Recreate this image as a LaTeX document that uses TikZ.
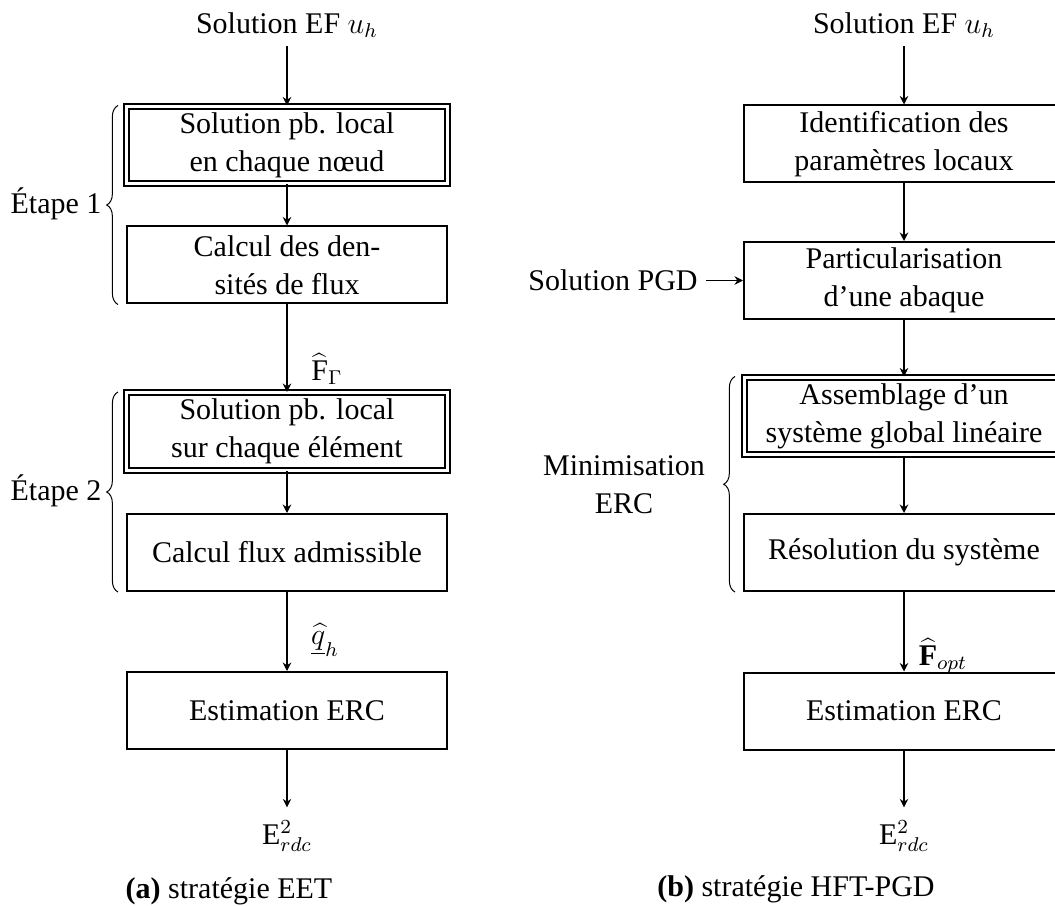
\documentclass[tikz,border=0pt]{standalone}
\usepackage{fontspec}
\setmainfont{Liberation Serif}
\usetikzlibrary{decorations.pathreplacing,arrows.meta}
\begin{document}
\begin{tikzpicture}[x=0.4pt,y=-0.4pt,
  font=\fontsize{12}{15.2}\selectfont,
  boxs/.style={draw, line width=0.8pt, minimum width=128pt, minimum height=30.8pt, inner sep=0pt, align=center},
  boxd/.style={boxs, double, double distance=1.2pt},
  arr/.style={-{Stealth[length=3.4pt,width=3.4pt,inset=1.1pt]}, line width=0.45pt},
  lbl/.style={inner sep=0pt},
  brc/.style={decorate, decoration={brace, amplitude=4.5pt}, line width=0.4pt}]
\clip (0,0) rectangle (1055,906);
% ---- left column
\node (lin) at (287,25) {Solution EF $u_h$};
\node[boxd] (L1) at (287,145) {Solution pb. local\\en chaque nœud};
\node[boxs] (L2) at (287,265) {Calcul des den-\\sités de flux};
\node[boxd] (L3) at (287,431.5) {Solution pb. local\\sur chaque élément};
\node[boxs] (L4) at (287,552.5) {Calcul flux admissible};
\node[boxs] (L5) at (287,710.5) {Estimation ERC};
\node[inner sep=5pt] (lout) at (287,836) {$\mathrm{E}^2_{rdc}$};
\draw[arr] (lin) -- (L1);
\draw[arr] (L1) -- (L2);
\draw[arr] (L2) -- (L3);
\draw[arr] (L3) -- (L4);
\draw[arr] (L4) -- (L5);
\draw[arr] (L5) -- (lout);
\node[lbl] (lF) at (327,369) {$\widehat{\mathrm{F}}_\Gamma$};
\node[lbl] (lq) at (325,640) {$\underline{\widehat{q}}_h$};
\draw[brc] ([xshift=-3.2pt]L2.south west) -- ([xshift=-3.2pt]L1.north west);
\draw[brc] ([xshift=-3.2pt]L4.south west) -- ([xshift=-3.2pt]L3.north west);
\node (e1) at (56,204) {Étape 1};
\node (e2) at (56,491) {Étape 2};
\node (capa) at (229,891) {\textbf{(a)} stratégie EET};
% ---- right column
\node (rin) at (904,25) {Solution EF $u_h$};
\node[boxs] (R1) at (904,144) {Identification des\\paramètres locaux};
\node[boxs] (R2) at (904,280.5) {Particularisation\\d’une abaque};
\node[boxd] (R3) at (904,416) {Assemblage d’un\\système global linéaire};
\node[boxs] (R4) at (904,552.5) {Résolution du système};
\node[boxs] (R5) at (904,711) {Estimation ERC};
\node[inner sep=5pt] (rout) at (904,836) {$\mathrm{E}^2_{rdc}$};
\node (pgd) at (613,280.5) {Solution PGD};
\draw[arr] (rin) -- (R1);
\draw[arr] (R1) -- (R2);
\draw[arr] (R2) -- (R3);
\draw[arr] (R3) -- (R4);
\draw[arr] (R4) -- (R5);
\draw[arr] (R5) -- (rout);
\draw[arr] (pgd) -- (R2);
\node[lbl] (rF) at (943,656) {$\widehat{\mathbf{F}}_{opt}$};
\draw[brc] ([xshift=-3.2pt]R4.south west) -- ([xshift=-3.2pt]R3.north west);
\node[align=center] (mini) at (624,485) {Minimisation\\ERC};
\node (capb) at (796,889) {\textbf{(b)} stratégie HFT-PGD};
\end{tikzpicture}
\end{document}
